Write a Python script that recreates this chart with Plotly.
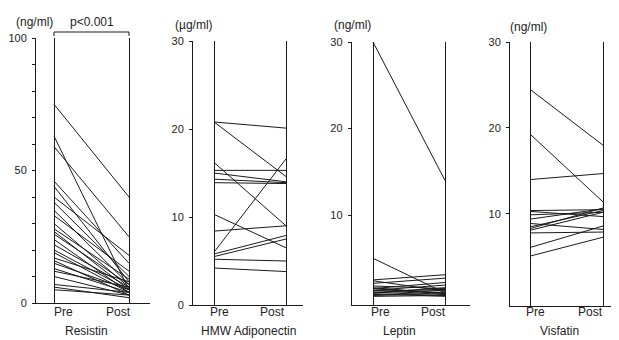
import plotly.graph_objects as go

W, H = 619, 340
OFF = 8  # page body offset of the plot div

# ---- data ----
resistin_pre  = [75, 63, 59, 46, 44, 40, 38, 35, 33, 30, 28, 27, 26, 24, 22, 20, 19, 17, 16, 15, 13, 12, 10, 7, 6, 5]
resistin_post = [40, 5, 25, 15, 8, 18, 10, 7, 12, 6, 9, 5, 7, 4, 6, 5, 4, 8, 3, 5, 4, 6, 3, 4, 2, 3]

adipo_pre  = [20.8, 20.8, 16.2, 15.3, 15.0, 14.3, 13.9, 10.3, 8.4, 6.0, 5.8, 5.5, 5.2, 4.2]
adipo_post = [20.1, 14.6, 9.0, 15.3, 14.0, 13.9, 13.8, 6.5, 9.0, 16.6, 7.9, 7.5, 5.0, 3.8]

leptin_pre  = [30, 5.0, 2.5, 2.4, 2.1, 1.8, 1.5, 1.5, 1.3, 1.3, 1.0, 1.0, 0.9, 0.8, 0.7, 0.6, 1.2, 1.6]
leptin_post = [14, 1.0, 3.1, 1.2, 2.7, 1.5, 2.2, 1.0, 1.9, 0.8, 1.6, 1.3, 0.6, 1.1, 0.9, 0.7, 1.4, 0.9]

visfatin_pre  = [24.5, 19.3, 14.0, 10.4, 10.3, 9.9, 9.4, 8.9, 8.5, 8.3, 8.1, 7.8, 6.1, 5.1]
visfatin_post = [18.0, 11.4, 14.7, 10.5, 9.7, 10.2, 10.6, 8.2, 10.4, 10.7, 10.2, 7.9, 8.6, 7.3]

time_labels = ["Pre", "Post"]
panel_names = ["Resistin", "HMW Adiponectin", "Leptin", "Visfatin"]
unit_labels = ["(ng/ml)", "(\u00b5g/ml)", "(ng/ml)", "(ng/ml)"]

FONT = "Liberation Sans, Arial, sans-serif"
LINE = "#1a1a1a"

def px_x(p):
    return (p - OFF) / W

def px_y(p):
    return 1 - (p - OFF) / H

# panel geometry in screen pixels
panels = [
    dict(ax=36, pre=54, post=129, right=150, bottom=303, top=38, yr=[0, 100]),
    dict(ax=193, pre=214, post=286, right=303, bottom=305, top=41, yr=[0, 30]),
    dict(ax=352, pre=373, post=445, right=470, bottom=305, top=42, yr=[-0.4, 30]),
    dict(ax=510, pre=530, post=603, right=619, bottom=306, top=42, yr=[-0.7, 30]),
]

series = [
    (resistin_pre, resistin_post),
    (adipo_pre, adipo_post),
    (leptin_pre, leptin_post),
    (visfatin_pre, visfatin_post),
]

fig = go.Figure()
layout = dict(
    width=W, height=H,
    margin=dict(l=0, r=0, t=0, b=0, autoexpand=False),
    paper_bgcolor="white", plot_bgcolor="white",
    showlegend=False,
    font=dict(family=FONT, size=12, color="#222"),
)

annotations = []
shapes = []

def label(x, y, text, xref="paper"):
    annotations.append(dict(x=x, y=y, xref=xref, yref="paper", text=text, showarrow=False,
                            xanchor="center", yanchor="middle", font=dict(size=12, color="#222")))

for i, (p, (pre, post)) in enumerate(zip(panels, series)):
    n = "" if i == 0 else str(i + 1)
    xa, ya = "x" + n, "y" + n
    unit = p["post"] - p["pre"]
    xr = [(p["ax"] - p["pre"]) / unit, 1 + (p["right"] - p["post"]) / unit]

    xs, ys = [], []
    for a, b in zip(pre, post):
        xs += [0, 1, None]
        ys += [a, b, None]
    fig.add_trace(go.Scatter(x=xs, y=ys, mode="lines", xaxis=xa, yaxis=ya,
                             line=dict(color=LINE, width=1), hoverinfo="skip"))

    gridw = 1.4 if i == 2 else 1
    layout["xaxis" + n] = dict(
        domain=[px_x(p["ax"]), px_x(p["right"])], range=xr, anchor=ya,
        showline=True, linecolor=LINE, linewidth=1,
        tickvals=[0, 1], ticktext=["", ""], ticks="",
        showgrid=True, gridcolor=LINE, gridwidth=gridw, zeroline=False,
        fixedrange=True, automargin=False,
    )
    if i == 0:
        tv = [0, 50, 100]
        minor = dict(tickvals=list(range(10, 100, 10)), ticklen=3, tickcolor=LINE)
    elif i == 1:
        tv, minor = [0, 10, 20, 30], None
    else:
        tv, minor = [10, 20, 30], None
    ydict = dict(
        domain=[px_y(p["bottom"]), px_y(p["top"])], range=p["yr"], anchor=xa,
        showline=True, linecolor=LINE, linewidth=1.4 if i == 2 else 1,
        ticks="outside", ticklen=3, tickcolor=LINE, tickwidth=1, ticklabelstandoff=3,
        tickvals=tv,
        showgrid=False, zeroline=False, fixedrange=True, automargin=False,
        tickfont=dict(size=11, family=FONT, color="#222"),
    )
    if minor:
        ydict["minor"] = dict(minor, ticks="outside")
    layout["yaxis" + n] = ydict
    # inner half of the crossing tick marks
    inner = dict(
        overlaying=ya, anchor=xa, range=p["yr"], side="left",
        showline=False, ticks="inside", ticklen=3, tickcolor=LINE, tickwidth=1,
        tickvals=tv, showticklabels=False, showgrid=False, zeroline=False,
        fixedrange=True, automargin=False,
    )
    if minor:
        inner["minor"] = dict(minor, ticks="inside")
    layout["yaxis" + str(i + 5)] = inner

pre_label_x = [63, 219, 380, 535]
post_label_x = [118, 272, 433, 590]
name_x = [86, 248, 399, 559]
for i in range(4):
    label(px_x(pre_label_x[i]), px_y(312), time_labels[0])
    label(px_x(post_label_x[i]), px_y(312), time_labels[1])
    label(px_x(name_x[i]), px_y(331), panel_names[i])

unit_x = [34, 194, 352, 528]
unit_y = [22, 25, 25, 27]
for i in range(4):
    label(px_x(unit_x[i]), px_y(unit_y[i]), unit_labels[i])

label(0.5, px_y(22), "p<0.001", xref="x")
shapes.append(dict(type="path", xref="x", yref="paper",
                   path=f"M 0,{px_y(36)} L 0,{px_y(32)} L 1,{px_y(32)} L 1,{px_y(36)}",
                   line=dict(color=LINE, width=1)))

layout["annotations"] = annotations
layout["shapes"] = shapes
fig.update_layout(**layout)
fig.write_html("out.html")
